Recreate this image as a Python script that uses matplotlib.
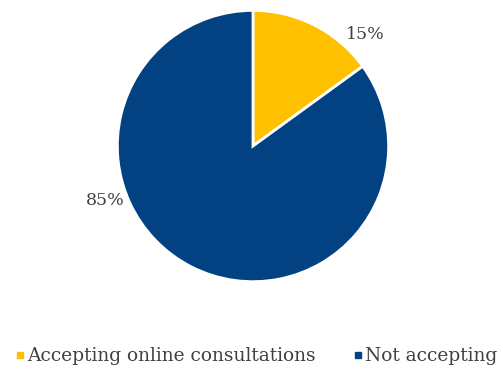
import matplotlib
matplotlib.use("Agg")
import matplotlib.pyplot as plt
from matplotlib.lines import Line2D

labels = ["Accepting online consultations", "Not accepting"]
shares = [15, 85]
colors = ["#FFC000", "#024282"]

# label anchor points (axes-data units, pie radius = 1)
label_pos = [(0.83, 0.82), (-1.09, -0.40)]

TXT = "#404040"
plt.rcParams["font.family"] = ["DejaVu Serif"]

fig = plt.figure(figsize=(5.03, 3.69), dpi=100)
ax = fig.add_axes([0.2306, 0.233, 0.5447, 0.7425])
wedges, _ = ax.pie(shares, colors=colors, startangle=90, counterclock=False,
                   radius=1.0, wedgeprops=dict(edgecolor="white", linewidth=2))
ax.set_xlim(-1.01, 1.01)
ax.set_ylim(-1.01, 1.01)
ax.set_aspect("equal")
ax.axis("off")

for v, (x, y) in zip(shares, label_pos):
    ax.text(x, y, f"{v}%", ha="center", va="center", fontsize=12.5, color=TXT)

handles = [Line2D([], [], marker="s", linestyle="none", markersize=5,
                  markerfacecolor=c, markeredgecolor=c) for c in colors]
fig.legend(handles, labels, loc="center", bbox_to_anchor=(0.508, 0.035),
           ncol=2, frameon=False, fontsize=13.4, handletextpad=0.05,
           columnspacing=1.9, labelcolor=TXT, handlelength=0.7)

fig.savefig("out.png", dpi=100)
